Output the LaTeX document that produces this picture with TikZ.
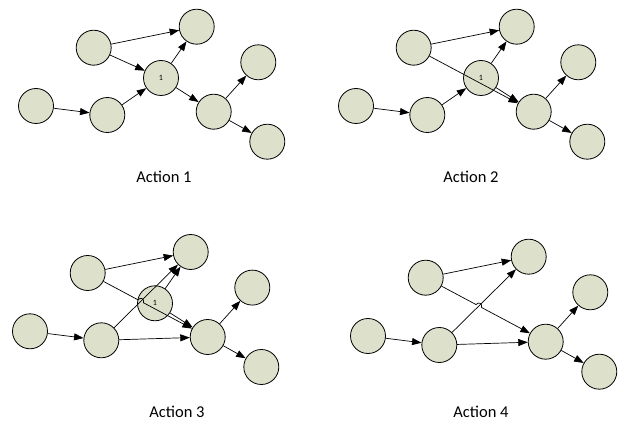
\documentclass[tikz,border=0pt]{standalone}
\usepackage{fontspec}
\setmainfont{Carlito}
\usetikzlibrary{arrows.meta,calc,intersections}
\definecolor{nodefill}{RGB}{221,224,203}
\begin{document}
\begin{tikzpicture}[x=1pt,y=-1pt,
  vtx/.style={circle,draw=black,line width=0.8pt,fill=nodefill,minimum size=35pt,inner sep=0pt,font=\fontsize{8}{8}\selectfont},
  edge/.style={line width=0.7pt,-{Triangle[length=9.5pt,width=7pt]}},
  caption/.style={font=\fontsize{16.5}{20}\selectfont}]
\useasboundingbox (0,0) rectangle (619,422);

% ---------- Action 1 ----------
\begin{scope}[shift={(0,0)}]
\node[vtx] (a1) at (93.7,47.7) {};
\node[vtx] (b1) at (196.7,26.7) {};
\node[vtx] (c1) at (161,78) {1};
\node[vtx] (d1) at (36,106) {};
\node[vtx] (e1) at (107.3,115) {};
\node[vtx] (f1) at (213.7,111.7) {};
\node[vtx] (g1) at (258.3,62.3) {};
\node[vtx] (h1) at (267.3,141.7) {};
\draw[edge] (d1) -- (e1);
\draw[edge] (e1) -- (c1);
\draw[edge] (a1) -- (c1);
\draw[edge] (a1) -- (b1);
\draw[edge] (c1) -- (b1);
\draw[edge] (c1) -- (f1);
\draw[edge] (f1) -- (g1);
\draw[edge] (f1) -- (h1);
\end{scope}
\node[caption] (l1) at (164,177) {Action 1};

% ---------- Action 2 ----------
\begin{scope}[shift={(320,0)}]
\node[vtx] (a2) at (93.7,47.7) {};
\node[vtx] (b2) at (196.7,26.7) {};
\node[vtx] (c2) at (161,78) {1};
\node[vtx] (d2) at (36,106) {};
\node[vtx] (e2) at (107.3,115) {};
\node[vtx] (f2) at (213.7,111.7) {};
\node[vtx] (g2) at (258.3,62.3) {};
\node[vtx] (h2) at (267.3,141.7) {};
\draw[edge] (d2) -- (e2);
\draw[edge] (e2) -- (c2);
\draw[edge] (a2) -- (b2);
\draw[edge] (c2) -- (b2);
\draw[edge] (c2) -- (f2);
\draw[edge] (a2) -- (f2);
\draw[edge] (f2) -- (g2);
\draw[edge] (f2) -- (h2);
\end{scope}
\node[caption] (l2) at (471,177) {Action 2};

% ---------- Action 3 ----------
\begin{scope}[shift={(-6,225.3)}]
\node[vtx] (a3) at (93.7,47.7) {};
\node[vtx] (b3) at (196.7,26.7) {};
\node[vtx] (c3) at (161,78) {1};
\node[vtx] (d3) at (36,106) {};
\node[vtx] (e3) at (107.3,115) {};
\node[vtx] (f3) at (213.7,111.7) {};
\node[vtx] (g3) at (258.3,62.3) {};
\node[vtx] (h3) at (267.3,141.7) {};
\end{scope}
\path[name path=af3] (a3) -- (f3);
\path[name path=eb3] (e3) -- (b3);
\path[name intersections={of=af3 and eb3,by=x3}];
\coordinate (p3) at ($(x3)!3pt!(a3)$);
\coordinate (q3) at ($(x3)!3pt!(f3)$);
\coordinate (pc3) at ($(p3)!4pt!90:(q3)$);
\coordinate (qc3) at ($(q3)!4pt!-90:(p3)$);
\draw[edge] (d3) -- (e3);
\draw[edge] (e3) -- (b3);
\draw[edge] (e3) -- (f3);
\draw[edge] (a3) -- (b3);
\draw[edge] (c3) -- (b3);
\draw[edge] (c3) -- (f3);
\draw[edge] (a3) -- (p3) .. controls (pc3) and (qc3) .. (q3) -- (f3);
\draw[edge] (f3) -- (g3);
\draw[edge] (f3) -- (h3);
\node[caption] (l3) at (177,412) {Action 3};

% ---------- Action 4 ----------
\begin{scope}[shift={(332,230)}]
\node[vtx] (a4) at (93.7,47.7) {};
\node[vtx] (b4) at (196.7,26.7) {};
\node[vtx] (d4) at (36,106) {};
\node[vtx] (e4) at (107.3,115) {};
\node[vtx] (f4) at (213.7,111.7) {};
\node[vtx] (g4) at (258.3,62.3) {};
\node[vtx] (h4) at (267.3,141.7) {};
\end{scope}
\path[name path=af4] (a4) -- (f4);
\path[name path=eb4] (e4) -- (b4);
\path[name intersections={of=af4 and eb4,by=x4}];
\coordinate (p4) at ($(x4)!3pt!(a4)$);
\coordinate (q4) at ($(x4)!3pt!(f4)$);
\coordinate (pc4) at ($(p4)!4pt!90:(q4)$);
\coordinate (qc4) at ($(q4)!4pt!-90:(p4)$);
\draw[edge] (d4) -- (e4);
\draw[edge] (e4) -- (b4);
\draw[edge] (e4) -- (f4);
\draw[edge] (a4) -- (b4);
\draw[edge] (a4) -- (p4) .. controls (pc4) and (qc4) .. (q4) -- (f4);
\draw[edge] (f4) -- (g4);
\draw[edge] (f4) -- (h4);
\node[caption] (l4) at (481,412) {Action 4};
\end{tikzpicture}
\end{document}
